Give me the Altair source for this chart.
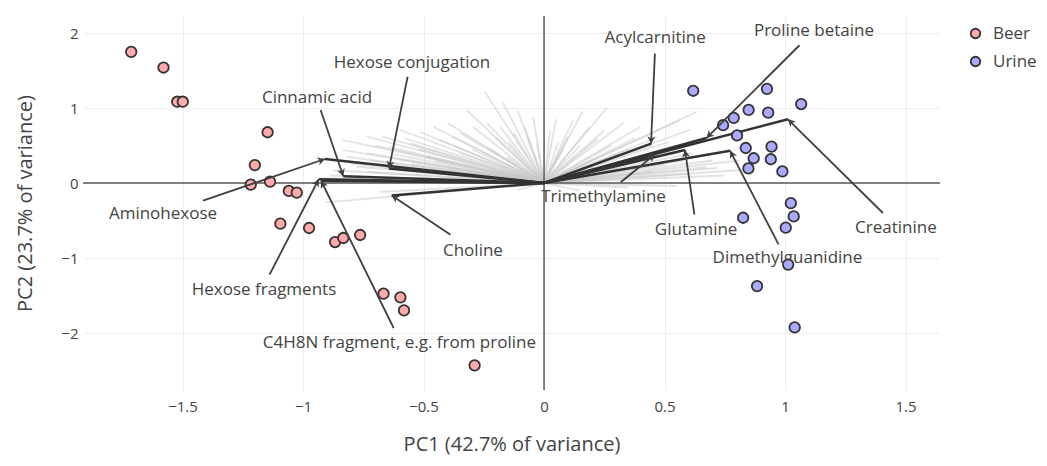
import math
import altair as alt
import pandas as pd

# ---------------- data ----------------
beer_pc1 = [-1.713, -1.579, -1.522, -1.499, -1.147, -1.200, -1.217, -1.137, -1.059, -1.026,
            -1.094, -0.975, -0.867, -0.833, -0.763, -0.666, -0.596, -0.581, -0.288]
beer_pc2 = [1.748, 1.540, 1.084, 1.084, 0.677, 0.239, -0.022, 0.018, -0.106, -0.128,
            -0.542, -0.600, -0.787, -0.733, -0.693, -1.476, -1.524, -1.698, -2.431]

urine_pc1 = [0.619, 0.925, 1.067, 0.849, 0.930, 0.787, 0.743, 0.801, 0.837, 0.944, 0.870,
             0.941, 0.848, 0.989, 1.024, 1.036, 0.826, 1.003, 1.013, 0.884, 1.040]
urine_pc2 = [1.230, 1.256, 1.053, 0.974, 0.938, 0.868, 0.771, 0.634, 0.467, 0.485, 0.330,
             0.317, 0.194, 0.154, -0.269, -0.445, -0.463, -0.595, -1.088, -1.374, -1.925]

# faint loading vectors (end points)
fan_x = [-0.245, -0.32, -0.17, -0.11, -0.045, -0.40, -0.46, -0.515, -0.60, -0.67, -0.735,
         -0.834, -0.834, -0.735, -0.64, -0.89, -0.805, -0.875, -0.735, -0.89, -0.93, -0.555,
         -0.43, -0.35, -0.295, -0.237, -0.183, -0.128, -0.07, -0.03, -0.237, -0.35, -0.486,
         -0.60, -0.154, -0.40, -0.68, -0.905, -0.32, -0.11,
         -0.52, -0.62, -0.72, -0.78, -0.66, -0.55, -0.45, -0.30, -0.20, -0.15, -0.08, -0.38,
         -0.58, -0.70, -0.82, -0.50, -0.40,
         0.26, 0.634, 0.12, 0.025, 0.19, 0.33, 0.40, 0.565, 0.47, 0.605, 0.634, 0.81, 0.81,
         0.675, 0.745, 0.06, 0.10, 0.15, 0.22, 0.28, 0.35, 0.30, 0.40, 0.50, 0.55, 0.60,
         0.70, 0.20, 0.05, 0.16, 0.35, 0.55, 0.15,
         0.45, 0.38, 0.25, 0.08, 0.52, 0.62, 0.72, 0.58, 0.45, 0.30, 0.68]
fan_y = [1.21, 0.97, 1.07, 0.97, 0.88, 0.80, 0.75, 0.68, 0.71, 0.62, 0.62,
         0.573, 0.44, 0.40, 0.48, 0.31, 0.26, 0.17, 0.15, 0.10, 0.06, 0.53,
         0.57, 0.67, 0.75, 0.80, 0.75, 0.67, 0.62, 0.53, 0.48, 0.40, 0.35,
         0.31, 0.35, 0.21, -0.12, -0.257, -0.07, -0.09,
         0.45, 0.38, 0.30, 0.22, 0.20, 0.25, 0.30, 0.45, 0.60, 0.55, 0.75, 0.62,
         0.60, 0.50, 0.35, 0.15, 0.12,
         1.00, 0.95, 0.84, 0.70, 0.75, 0.80, 0.75, 0.84, 0.61, 0.71, 0.53, 0.30, 0.17,
         0.21, 0.10, 0.55, 0.62, 0.50, 0.58, 0.50, 0.45, 0.35, 0.30, 0.25, 0.40, 0.12,
         0.30, 0.30, 0.85, 0.95, -0.06, -0.04, -0.10,
         0.50, 0.60, 0.70, 0.45, 0.55, 0.40, 0.20, 0.30, 0.15, 0.20, 0.60]

# highlighted loadings: name, loading end point, label centre, arrow tail
names = ["Hexose conjugation", "Cinnamic acid", "Aminohexose", "Hexose fragments",
         "C4H8N fragment, e.g. from proline", "Choline", "Acylcarnitine", "Proline betaine",
         "Trimethylamine", "Glutamine", "Creatinine", "Dimethylguanidine"]
load_x = [-0.643, -0.833, -0.909, -0.935, -0.925, -0.632, 0.444, 0.674, 0.460, 0.585, 1.012, 0.772]
load_y = [0.195, 0.090, 0.320, 0.050, 0.030, -0.165, 0.525, 0.600, 0.380, 0.440, 0.850, 0.430]
label_x = [-0.548, -0.942, -1.581, -1.162, -0.600, -0.295, 0.461, 1.120, 0.247, 0.631, 1.460, 1.010]
label_y = [1.600, 1.133, -0.413, -1.427, -2.133, -0.907, 1.933, 2.027, -0.187, -0.627, -0.600, -1.000]
tail_x = [-0.566, -0.927, -1.415, -1.139, -0.624, -0.388, 0.460, 1.060, 0.318, 0.624, 1.406, 0.973]
tail_y = [1.417, 0.973, -0.235, -1.222, -1.933, -0.690, 1.727, 1.837, 0.010, -0.420, -0.400, -0.819]

# ---------------- layout ----------------
X_DOMAIN = [-1.913, 1.643]
Y_DOMAIN = [-2.76, 2.227]
W, H = 857, 374
SX = W / (X_DOMAIN[1] - X_DOMAIN[0])
SY = H / (Y_DOMAIN[1] - Y_DOMAIN[0])

FONT = "Open Sans"
TXT = "#444444"

xs = alt.Scale(domain=X_DOMAIN, nice=False, zero=False)
ys = alt.Scale(domain=Y_DOMAIN, nice=False, zero=False)

x_axis = alt.Axis(values=[-1.5, -1, -0.5, 0, 0.5, 1, 1.5], format="~g",
                  title="PC1 (42.7% of variance)", grid=True, gridColor="#eeeeee",
                  gridWidth=1, ticks=False, domain=False, labelFontSize=15,
                  labelColor=TXT, labelFont=FONT, labelPadding=9,
                  titleFontSize=20, titleColor=TXT, titleFont=FONT,
                  titleFontWeight="normal", titleX=W / 2, titleY=54,
                  titleBaseline="middle")
y_axis = alt.Axis(values=[-2, -1, 0, 1, 2], format="~g",
                  title="PC2 (23.7% of variance)", grid=True, gridColor="#eeeeee",
                  gridWidth=1, ticks=False, domain=False, labelFontSize=15,
                  labelColor=TXT, labelFont=FONT, labelPadding=5,
                  titleFontSize=20, titleColor=TXT, titleFont=FONT,
                  titleFontWeight="normal", titleX=-58, titleY=H / 2,
                  titleBaseline="middle")

# tables built from the arrays
pts = pd.DataFrame({
    "pc1": beer_pc1 + urine_pc1,
    "pc2": beer_pc2 + urine_pc2,
    "group": ["Beer"] * len(beer_pc1) + ["Urine"] * len(urine_pc1),
})
fan = pd.DataFrame({"x0": [0.0] * len(fan_x), "y0": [0.0] * len(fan_x),
                    "x": fan_x, "y": fan_y})
load = pd.DataFrame({"name": names, "x0": [0.0] * len(names), "y0": [0.0] * len(names),
                     "x": load_x, "y": load_y, "lx": label_x, "ly": label_y,
                     "tx": tail_x, "ty": tail_y})
load["ang"] = [
    (math.degrees(math.atan2((a - c) * SX, (b - d) * SY)) + 360) % 360
    for a, b, c, d in zip(load_x, load_y, tail_x, tail_y)
]
zero = pd.DataFrame({"v": [0.0]})

base_x = lambda f: alt.X(f, type="quantitative", scale=xs, axis=x_axis)
base_y = lambda f: alt.Y(f, type="quantitative", scale=ys, axis=y_axis)

fan_layer = alt.Chart(fan).mark_rule(color="#c8c8c8", strokeWidth=1.8, opacity=0.5).encode(
    x=base_x("x0"), y=base_y("y0"), x2="x:Q", y2="y:Q")

zero_v = alt.Chart(zero).mark_rule(color="#5a5a5a", strokeWidth=1.5).encode(x=base_x("v"))
zero_h = alt.Chart(zero).mark_rule(color="#5a5a5a", strokeWidth=1.5).encode(y=base_y("v"))

load_layer = alt.Chart(load).mark_rule(color="#333333", strokeWidth=2.5).encode(
    x=base_x("x0"), y=base_y("y0"), x2="x:Q", y2="y:Q")

points = alt.Chart(pts).mark_circle(size=110, opacity=1, stroke="#333333",
                                     strokeWidth=1.8).encode(
    x=base_x("pc1"), y=base_y("pc2"),
    color=alt.Color("group:N",
                    scale=alt.Scale(domain=["Beer", "Urine"], range=["#ffaaaa", "#aaaaff"]),
                    legend=alt.Legend(orient="none", legendX=884, legendY=9, title=None,
                                      labelFontSize=17, labelFont=FONT, labelColor=TXT,
                                      symbolType="circle", symbolSize=90,
                                      symbolStrokeColor="#333333", symbolStrokeWidth=1.8,
                                      symbolOpacity=1, rowPadding=10, labelOffset=9,
                                      padding=0)))

arrows = alt.Chart(load).mark_rule(color="#404040", strokeWidth=1.8).encode(
    x=base_x("tx"), y=base_y("ty"), x2="x:Q", y2="y:Q")

heads = alt.Chart(load).mark_point(shape="M 0 0 L 0.65 1.2 L 0 0.85 L -0.65 1.2 Z",
                                   filled=True, color="#404040", size=150,
                                   opacity=1).encode(
    x=base_x("x"), y=base_y("y"), angle=alt.Angle("ang:Q", scale=None))

labels = alt.Chart(load).mark_text(font=FONT, fontSize=17, color=TXT, align="center",
                                   baseline="middle").encode(
    x=base_x("lx"), y=base_y("ly"), text="name:N")

chart = alt.layer(fan_layer, zero_v, zero_h, load_layer, labels, points, arrows, heads).properties(
    width=W, height=H,
    autosize=alt.AutoSizeParams(type="none"),
    padding={"left": 75, "top": 8, "right": 99, "bottom": 68},
).configure(font=FONT).configure_view(stroke="transparent", strokeWidth=0)

chart.save("out.html", embed_options={"renderer": "svg", "actions": False})
